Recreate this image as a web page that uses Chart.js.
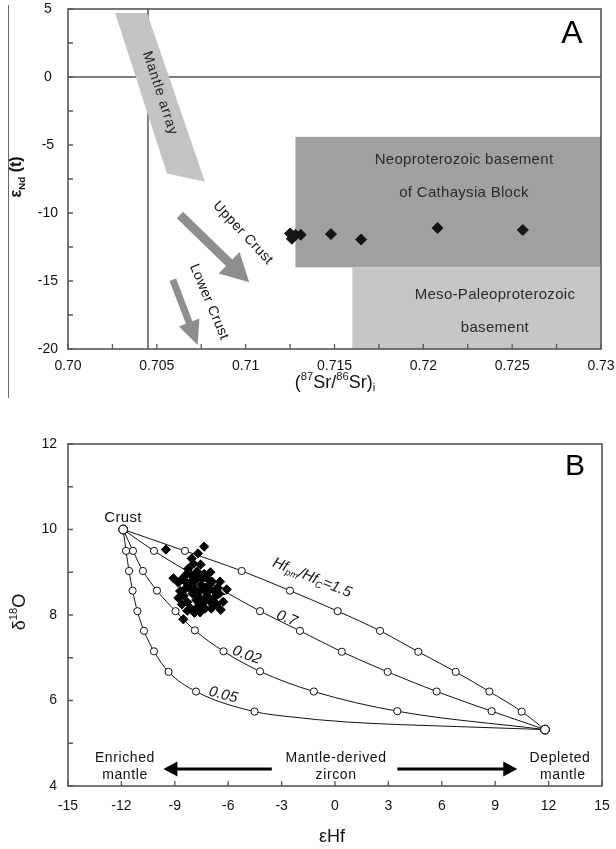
<!DOCTYPE html>
<html>
<head>
<meta charset="utf-8">
<script src="https://cdn.jsdelivr.net/npm/chart.js@4.4.1/dist/chart.umd.min.js"></script>
<style>
  body { margin: 0; background: #fff; }
  #wrap { position: relative; width: 616px; height: 849px; }
  #chartA { position: absolute; left: 0; top: 0; }
  #chartB { position: absolute; left: 0; top: 400px; }
  #frame { position: absolute; left: 8px; top: 5px; height: 393px; border-left: 1.5px solid #666; }
</style>
</head>
<body>
<div id="wrap">
  <canvas id="chartA" width="616" height="400"></canvas>
  <canvas id="chartB" width="616" height="449"></canvas>
  <div id="frame"></div>
</div>
<script>
const FONT = "'Liberation Sans', Arial, Helvetica, sans-serif";
Chart.defaults.font.family = FONT;
Chart.defaults.color = '#111';

// ---------- panel A: (87Sr/86Sr)i vs eNd(t) ----------
const srRatio = [0.7125, 0.7126, 0.7128, 0.7131, 0.7148, 0.7165, 0.7208, 0.7256];
const epsNd   = [-11.5, -11.9, -11.6, -11.6, -11.55, -11.95, -11.1, -11.25];

const srTicks = [0.70, 0.705, 0.71, 0.715, 0.72, 0.725, 0.73];
const srTickLabels = ['0.70', '0.705', '0.71', '0.715', '0.72', '0.725', '0.73'];
const ndTicks = [5, 0, -5, -10, -15, -20];

const mantleArraySr = [0.70265, 0.70445, 0.70771, 0.70557];
const mantleArrayNd = [4.7, 4.7, -7.7, -7.1];
const neoBasementSr = [0.7128, 0.73];
const neoBasementNd = [-4.4, -14];
const mesoBasementSr = [0.716, 0.73];
const mesoBasementNd = [-14, -20];
const bulkEarthSr = 0.7045;
const chondriteNd = 0;
const upperCrustSr = [0.7063, 0.7102];
const upperCrustNd = [-10.15, -15.1];
const lowerCrustSr = [0.7059, 0.7073];
const lowerCrustNd = [-14.9, -19.7];

// ---------- panel B: eHf vs d18O ----------
const zirconHf = [-9.50, -7.35, -7.70, -8.05, -7.95, -7.55, -8.25, -7.75, -7.35, -8.05,
                  -8.55, -9.08, -8.80, -8.40, -7.85, -7.20, -6.90, -6.46, -6.08, -6.60,
                  -7.00, -7.50, -8.20, -8.70, -8.50, -8.00, -7.60, -7.20, -6.80, -6.50,
                  -6.28, -6.42, -7.00, -7.40, -7.80, -8.30, -8.60, -8.10, -7.70, -7.30,
                  -7.58, -8.52, -7.90, -8.80, -7.10, -7.90, -8.35, -7.45, -6.75, -7.65,
                  -8.15, -7.35, -7.00, -7.80, -8.45, -7.25, -6.95, -8.30, -7.55, -6.65];
const zirconO  = [9.53, 9.60, 9.44, 9.32, 9.20, 9.18, 9.08, 9.02, 8.96, 8.92,
                  8.86, 8.86, 8.76, 8.78, 8.80, 8.86, 8.78, 8.78, 8.60, 8.64,
                  8.60, 8.70, 8.64, 8.56, 8.45, 8.50, 8.55, 8.45, 8.40, 8.50,
                  8.31, 8.12, 8.30, 8.30, 8.35, 8.30, 8.25, 8.15, 8.20, 8.15,
                  8.06, 7.90, 8.05, 8.40, 8.70, 8.62, 8.95, 8.85, 8.55, 8.40,
                  8.75, 8.60, 9.00, 8.92, 8.60, 8.35, 8.15, 8.10, 8.25, 8.25];

const curve15Hf  = [-11.9, -8.43, -5.24, -2.53, 0.15, 2.53, 4.68, 6.78, 8.67, 10.49, 11.8];
const curve15O   = [10.0, 9.50, 9.03, 8.57, 8.09, 7.63, 7.14, 6.67, 6.21, 5.74, 5.32];
const curve07Hf  = [-11.9, -10.17, -8.24, -6.24, -4.21, -1.97, 0.38, 2.96, 5.71, 8.80, 11.8];
const curve07O   = [10.0, 9.50, 9.01, 8.56, 8.09, 7.63, 7.14, 6.67, 6.21, 5.75, 5.32];
const curve002Hf = [-11.9, -11.35, -10.79, -10.0, -8.96, -7.87, -6.26, -4.21, -1.19, 3.50, 11.8];
const curve002O  = [10.0, 9.50, 9.03, 8.57, 8.09, 7.64, 7.15, 6.68, 6.21, 5.75, 5.32];
const curve005Hf = [-11.9, -11.74, -11.57, -11.37, -11.10, -10.73, -10.17, -9.35, -7.81, -4.52, -2.53, 0.56, 6.84, 11.8];
const curve005O  = [10.0, 9.50, 9.03, 8.57, 8.09, 7.63, 7.15, 6.67, 6.21, 5.74, 5.62, 5.50, 5.39, 5.32];
const curve005Marked = 10; // circles drawn on the first 10 points, then plain line

const hfTicks = [-15, -12, -9, -6, -3, 0, 3, 6, 9, 12, 15];
const oTicks = [4, 6, 8, 10, 12];
const enrichedArrowHf = [-3.55, -9.64];
const depletedArrowHf = [3.5, 10.24];
const arrowO = 4.4;

// ---------- drawing helpers ----------
function richText(ctx, parts, x, y, size, rot, style) {
  ctx.save();
  ctx.translate(x, y);
  ctx.rotate(rot || 0);
  let total = 0;
  const items = parts.map(([t, k]) => {
    const s = k ? size * 0.62 : size;
    ctx.font = `${style || ''} ${s}px ${FONT}`;
    const w = ctx.measureText(t).width;
    total += w;
    return { t, k, s, w };
  });
  let cx = -total / 2;
  ctx.textAlign = 'left';
  ctx.textBaseline = 'middle';
  items.forEach(it => {
    ctx.font = `${style || ''} ${it.s}px ${FONT}`;
    const dy = it.k === 'sub' ? size * 0.3 : it.k === 'sup' ? -size * 0.33 : 0;
    ctx.fillText(it.t, cx, dy);
    cx += it.w;
  });
  ctx.restore();
}

function label(ctx, text, x, y, size, rot, spacing, color) {
  ctx.save();
  ctx.translate(x, y);
  ctx.rotate(rot || 0);
  ctx.font = `${size}px ${FONT}`;
  ctx.letterSpacing = (spacing || 0) + 'px';
  ctx.fillStyle = color || '#111';
  ctx.textAlign = 'center';
  ctx.textBaseline = 'middle';
  ctx.fillText(text, 0, 0);
  ctx.restore();
}

function drawArrow(ctx, x0, y0, x1, y1, shaft, headLen, headHalf, color) {
  const a = Math.atan2(y1 - y0, x1 - x0);
  const len = Math.hypot(x1 - x0, y1 - y0);
  ctx.save();
  ctx.translate(x0, y0);
  ctx.rotate(a);
  ctx.fillStyle = color;
  ctx.beginPath();
  ctx.moveTo(0, -shaft / 2);
  ctx.lineTo(len - headLen, -shaft / 2);
  ctx.lineTo(len - headLen, -headHalf);
  ctx.lineTo(len, 0);
  ctx.lineTo(len - headLen, headHalf);
  ctx.lineTo(len - headLen, shaft / 2);
  ctx.lineTo(0, shaft / 2);
  ctx.closePath();
  ctx.fill();
  ctx.restore();
}

function frameAndTicks(chart, xVals, yVals, len) {
  const { ctx, chartArea: a, scales } = chart;
  ctx.save();
  ctx.strokeStyle = '#555';
  ctx.lineWidth = 1.3;
  ctx.beginPath();
  xVals.forEach(v => {
    const p = scales.x.getPixelForValue(v);
    ctx.moveTo(p, a.bottom); ctx.lineTo(p, a.bottom - len);
  });
  yVals.forEach(v => {
    const p = scales.y.getPixelForValue(v);
    ctx.moveTo(a.left, p); ctx.lineTo(a.left + len, p);
  });
  ctx.stroke();
  ctx.lineWidth = 1.6;
  ctx.strokeRect(a.left, a.top, a.right - a.left, a.bottom - a.top);
  ctx.restore();
}

// fixed axis boxes so the plot area sits where the original one does
function fitX(h) {
  return s => { s.height = h; s.paddingLeft = 0; s.paddingRight = 0; };
}
function fitY(w) {
  return s => { s.width = w; s.paddingTop = 0; s.paddingBottom = 0; };
}

const deg = Math.PI / 180;

// ---------- panel A ----------
const srMinor = [];
for (let v = 0.7; v <= 0.73001; v += 0.0025) srMinor.push(v);
const ndMinor = [];
for (let v = -20; v <= 5; v += 2.5) ndMinor.push(v);

const panelA = {
  id: 'panelA',
  beforeDatasetsDraw(chart) {
    const { ctx, chartArea: a } = chart;
    const X = v => chart.scales.x.getPixelForValue(v);
    const Y = v => chart.scales.y.getPixelForValue(v);
    ctx.save();
    ctx.fillStyle = '#a0a0a0';
    ctx.fillRect(X(neoBasementSr[0]), Y(neoBasementNd[0]),
      X(neoBasementSr[1]) - X(neoBasementSr[0]), Y(neoBasementNd[1]) - Y(neoBasementNd[0]));
    ctx.fillStyle = '#c6c6c6';
    ctx.fillRect(X(mesoBasementSr[0]), Y(mesoBasementNd[0]),
      X(mesoBasementSr[1]) - X(mesoBasementSr[0]), Y(mesoBasementNd[1]) - Y(mesoBasementNd[0]));

    ctx.strokeStyle = '#555';
    ctx.lineWidth = 1.5;
    ctx.beginPath();
    ctx.moveTo(a.left, Y(chondriteNd)); ctx.lineTo(a.right, Y(chondriteNd));
    ctx.moveTo(X(bulkEarthSr), a.top); ctx.lineTo(X(bulkEarthSr), a.bottom);
    ctx.stroke();

    ctx.fillStyle = '#c3c3c3';
    ctx.beginPath();
    mantleArraySr.forEach((v, i) => {
      if (i === 0) ctx.moveTo(X(v), Y(mantleArrayNd[i]));
      else ctx.lineTo(X(v), Y(mantleArrayNd[i]));
    });
    ctx.closePath();
    ctx.fill();

    drawArrow(ctx, X(upperCrustSr[0]), Y(upperCrustNd[0]), X(upperCrustSr[1]), Y(upperCrustNd[1]), 9, 28, 15, '#8e8e8e');
    drawArrow(ctx, X(lowerCrustSr[0]), Y(lowerCrustNd[0]), X(lowerCrustSr[1]), Y(lowerCrustNd[1]), 7, 24, 11, '#8e8e8e');

    label(ctx, 'Mantle array', X(0.70518), Y(-1.2), 14, 72 * deg, 0.8, '#222');
    label(ctx, 'Upper Crust', X(0.70985), Y(-11.47), 14, 47 * deg, 0.5, '#111');
    label(ctx, 'Lower Crust', X(0.70794), Y(-16.54), 14, 67 * deg, 0.5, '#111');
    label(ctx, 'Neoproterozoic basement', X(0.72229), Y(-6.1), 15, 0, 0.3, '#2a2a2a');
    label(ctx, 'of Cathaysia Block', X(0.72229), Y(-8.53), 15, 0, 0.3, '#2a2a2a');
    label(ctx, 'Meso-Paleoproterozoic', X(0.72403), Y(-16.03), 15, 0, 0.3, '#2a2a2a');
    label(ctx, 'basement', X(0.72403), Y(-18.46), 15, 0, 0.3, '#2a2a2a');
    ctx.restore();
  },
  afterDraw(chart) {
    const { ctx, chartArea: a } = chart;
    frameAndTicks(chart, srMinor, ndMinor, 5);
    label(ctx, 'A', a.right - 29, a.top + 25, 32, 0, 0, '#000');
    ctx.fillStyle = '#111';
    richText(ctx, [['ε', ''], ['Nd', 'sub'], [' (t)', '']], 17, 177, 16, -Math.PI / 2, 'bold');
    richText(ctx, [['(', ''], ['87', 'sup'], ['Sr/', ''], ['86', 'sup'], ['Sr)', ''], ['i', 'sub']], 335, 383, 18, 0, '');
  }
};

new Chart(document.getElementById('chartA'), {
  type: 'scatter',
  data: {
    datasets: [{
      data: srRatio.map((x, i) => ({ x, y: epsNd[i] })),
      pointStyle: 'rectRot',
      pointRadius: 5.5,
      backgroundColor: '#151515',
      borderColor: '#151515',
      borderWidth: 1
    }]
  },
  options: {
    responsive: false,
    animation: false,
    layout: { padding: { top: 9, right: 15, left: 0, bottom: 0 } },
    plugins: { legend: { display: false }, tooltip: { enabled: false } },
    scales: {
      x: {
        type: 'linear', min: 0.70, max: 0.73,
        grid: { display: false, drawTicks: false }, border: { display: false },
        afterBuildTicks: s => { s.ticks = srTicks.map(v => ({ value: v })); },
        afterFit: fitX(51),
        ticks: { padding: 9, font: { size: 14 }, color: '#111', maxRotation: 0, autoSkip: false,
                 callback: (v, i) => srTickLabels[i] }
      },
      y: {
        type: 'linear', min: -20, max: 5,
        grid: { display: false, drawTicks: false }, border: { display: false },
        afterBuildTicks: s => { s.ticks = ndTicks.map(v => ({ value: v })); },
        afterFit: fitY(68),
        ticks: { padding: 10, crossAlign: 'center', font: { size: 14 }, color: '#111' }
      }
    }
  },
  plugins: [panelA]
});

// ---------- panel B ----------
const oMinor = [4, 5, 6, 7, 8, 9, 10, 11, 12];

const panelB = {
  id: 'panelB',
  beforeDatasetsDraw(chart) {
    const { ctx } = chart;
    const X = v => chart.scales.x.getPixelForValue(v);
    const Y = v => chart.scales.y.getPixelForValue(v);
    drawArrow(ctx, X(enrichedArrowHf[0]), Y(arrowO), X(enrichedArrowHf[1]), Y(arrowO), 3, 14, 7.5, '#000');
    drawArrow(ctx, X(depletedArrowHf[0]), Y(arrowO), X(depletedArrowHf[1]), Y(arrowO), 3, 14, 7.5, '#000');
  },
  afterDatasetsDraw(chart) {
    const { ctx } = chart;
    const X = v => chart.scales.x.getPixelForValue(v);
    const Y = v => chart.scales.y.getPixelForValue(v);
    ctx.fillStyle = '#111';
    label(ctx, 'Crust', X(-11.91), Y(10.28), 15, 0, 0.3);
    richText(ctx, [['Hf', ''], ['pm', 'sub'], ['/Hf', ''], ['C', 'sub'], ['=1.5', '']], X(-1.29), Y(8.87), 15, 22 * deg, 'italic');
    richText(ctx, [['0.7', '']], X(-2.71), Y(7.92), 15, 22 * deg, 'italic');
    richText(ctx, [['0.02', '']], X(-4.96), Y(7.06), 15, 20 * deg, 'italic');
    richText(ctx, [['0.05', '']], X(-6.28), Y(6.13), 15, 15 * deg, 'italic');
    label(ctx, 'Enriched', X(-11.8), Y(4.66), 14, 0, 0.6);
    label(ctx, 'mantle', X(-11.8), Y(4.26), 14, 0, 0.6);
    label(ctx, 'Mantle-derived', X(0.06), Y(4.66), 14, 0, 0.6);
    label(ctx, 'zircon', X(0.06), Y(4.26), 14, 0, 0.6);
    label(ctx, 'Depleted', X(12.64), Y(4.66), 14, 0, 0.6);
    label(ctx, 'mantle', X(12.8), Y(4.26), 14, 0, 0.6);
  },
  afterDraw(chart) {
    const { ctx, chartArea: a } = chart;
    frameAndTicks(chart, hfTicks, oMinor, 5);
    label(ctx, 'B', a.right - 27, a.top + 23, 30, 0, 0, '#000');
    ctx.fillStyle = '#111';
    richText(ctx, [['δ', ''], ['18', 'sup'], ['O', '']], 20, 212, 18, -Math.PI / 2, '');
    richText(ctx, [['εHf', '']], 332, 437, 18, 0, '');
  }
};

function mixCurve(hf, o, marked) {
  const n = marked || hf.length;
  return {
    data: hf.map((x, i) => ({ x, y: o[i] })),
    showLine: true,
    cubicInterpolationMode: 'monotone',
    borderColor: '#111',
    borderWidth: 1,
    pointStyle: 'circle',
    pointRadius: hf.map((v, i) => (i === 0 || i === hf.length - 1) ? 4.3 : (i < n ? 3.6 : 0)),
    pointBackgroundColor: '#fff',
    pointBorderColor: '#111',
    pointBorderWidth: 1,
    order: 2
  };
}

new Chart(document.getElementById('chartB'), {
  type: 'scatter',
  data: {
    datasets: [
      {
        data: zirconHf.map((x, i) => ({ x, y: zirconO[i] })),
        pointStyle: 'rectRot',
        pointRadius: 4.6,
        backgroundColor: '#000',
        borderColor: '#000',
        borderWidth: 1,
        order: 1
      },
      mixCurve(curve15Hf, curve15O),
      mixCurve(curve07Hf, curve07O),
      mixCurve(curve002Hf, curve002O),
      mixCurve(curve005Hf, curve005O, curve005Marked)
    ]
  },
  options: {
    responsive: false,
    animation: false,
    layout: { padding: { top: 44, right: 14, left: 0, bottom: 0 } },
    plugins: { legend: { display: false }, tooltip: { enabled: false } },
    scales: {
      x: {
        type: 'linear', min: -15, max: 15,
        grid: { display: false, drawTicks: false }, border: { display: false },
        afterBuildTicks: s => { s.ticks = hfTicks.map(v => ({ value: v })); },
        afterFit: fitX(63),
        ticks: { padding: 12, font: { size: 14 }, color: '#111', maxRotation: 0, autoSkip: false }
      },
      y: {
        type: 'linear', min: 4, max: 12,
        grid: { display: false, drawTicks: false }, border: { display: false },
        afterBuildTicks: s => { s.ticks = oTicks.map(v => ({ value: v })); },
        afterFit: fitY(68),
        ticks: { padding: 11, font: { size: 14 }, color: '#111' }
      }
    }
  },
  plugins: [panelB]
});
</script>
</body>
</html>
